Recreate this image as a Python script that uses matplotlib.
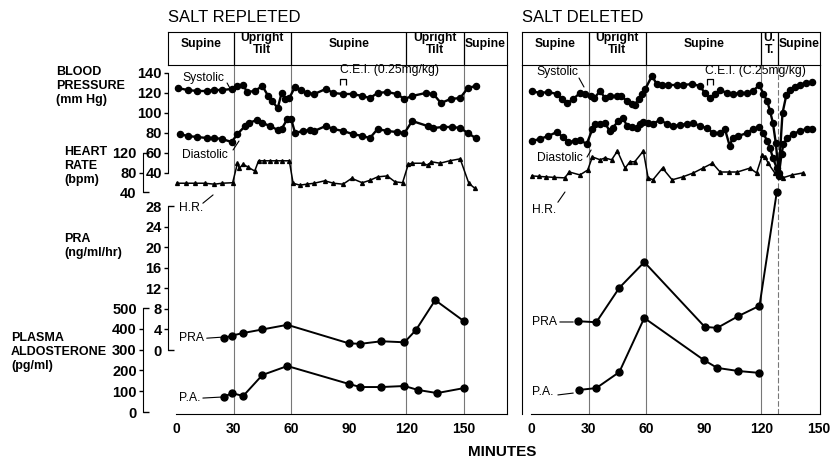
import matplotlib.pyplot as plt
from matplotlib import ticker
from matplotlib.path import Path

plt.rcParams['font.family'] = ['Liberation Sans', 'DejaVu Sans']
plt.rcParams['font.weight'] = 'bold'

# ---------------- salt repleted ----------------
rep_sys_t = [1, 6, 11, 16, 20, 24, 29, 32, 35, 37, 41, 45, 48, 50, 53, 55, 57, 59, 62, 65,
             68, 72, 78, 82, 87, 92, 97, 101, 105, 110, 115, 119, 123, 130, 134, 138, 143, 148, 152, 156]
rep_sys = [125, 123, 122, 122, 123, 123, 124, 127, 128, 121, 122, 127, 117, 112, 105, 120, 114, 115, 126, 123,
           120, 119, 124, 120, 119, 119, 117, 115, 120, 121, 119, 114, 117, 120, 119, 110, 114, 115, 125, 127]
rep_dia_t = [2, 6, 11, 16, 20, 24, 29, 32, 36, 38, 42, 45, 49, 53, 55, 58, 60, 62, 66, 70,
             72, 78, 82, 87, 92, 97, 101, 105, 110, 115, 119, 123, 131, 134, 139, 144, 148, 152, 156]
rep_dia = [79, 77, 76, 75, 75, 74, 71, 79, 87, 90, 93, 90, 87, 83, 84, 94, 94, 80, 82, 83,
           82, 87, 84, 82, 79, 77, 75, 84, 82, 81, 80, 92, 87, 85, 86, 86, 85, 80, 75]
rep_hr_t = [0.5, 5, 10, 15, 20, 24, 29.5, 32, 33, 35, 37.5, 41, 43, 46, 49, 52, 55, 59,
            61, 64.5, 68, 72, 77.5, 82, 87, 91.5, 97, 101, 105, 110, 114, 118,
            121, 123, 128.5, 131, 133, 137.5, 142.5, 148, 152.5, 155.5]
rep_hr = [58, 58, 58, 58, 56, 58, 59, 99, 89, 97, 91, 83, 104, 104, 104, 104, 104, 104,
          58, 54, 56, 58, 63, 58, 56, 68, 59, 64, 71, 73, 61, 59,
          97, 99, 99, 95, 102, 99, 104, 108, 58, 48]
rep_pra_t = [25, 29, 35, 45, 58, 90, 96, 107, 119, 125, 135, 150]
rep_pra = [2.3, 2.8, 3.3, 4.0, 4.9, 1.3, 1.2, 1.7, 1.5, 3.9, 9.7, 5.6]
rep_pa_t = [25, 29, 35, 45, 58, 90, 96, 107, 119, 126, 136, 150]
rep_pa = [72, 91, 77, 178, 221, 135, 120, 120, 125, 106, 91, 115]
rep_cei = 87

# ---------------- salt depleted ----------------
dep_sys_t = [0.5, 4.5, 9, 13.5, 16, 19, 22, 25.5, 28, 31, 33, 36, 38.5, 41, 45, 47, 50, 52.5, 54, 56,
             58, 59.5, 63, 65.5, 68, 71.5, 76, 79, 84, 88, 90.5, 93, 96, 98.5, 102, 105, 109, 112.5, 115.5, 119,
             121, 123, 124.5, 126, 127.5, 129, 131, 133, 135, 137.5, 140, 143, 146.5]
dep_sys = [122, 120, 121, 119, 114, 110, 114, 120, 119, 117, 115, 122, 115, 117, 117, 117, 112, 109, 108, 114,
           119, 124, 137, 129, 128, 128, 128, 128, 129, 127, 120, 115, 119, 123, 120, 119, 120, 120, 122, 128,
           119, 112, 102, 90, 70, 40, 100, 118, 123, 126, 128, 130, 131]
dep_dia_t = [0.5, 4.5, 9, 13.5, 16.5, 19.5, 23, 25.5, 29, 32, 33.5, 36, 38.5, 41, 42.5, 45.5, 48, 50, 52.5, 55,
             57, 58.5, 61, 63.5, 67, 71, 74, 77.5, 81, 84.5, 88, 91.5, 95, 98.5, 101, 103.5, 105, 108, 112.5, 115.5,
             119, 121, 123, 124.5, 126, 128, 129, 130.5, 131.5, 133.5, 136.5, 140, 143.5, 146.5]
dep_dia = [72, 74, 77, 81, 76, 71, 72, 73, 69, 84, 89, 89, 90, 82, 85, 92, 95, 87, 86, 85,
           89, 91, 90, 89, 93, 89, 87, 88, 89, 90, 87, 85, 80, 80, 84, 67, 75, 77, 80, 84,
           86, 80, 72, 65, 55, 45, 37, 59, 69, 75, 79, 82, 84, 84]
dep_hr_t = [0.5, 4, 8, 12, 17.5, 20, 25.5, 29.5, 32, 36, 38.5, 42, 45, 49, 51.5, 54, 58.5, 61, 63.5, 68.5,
            73.5, 79, 84.5, 89.5, 94.5, 98.5, 103, 107.5, 114, 117.5, 120.5, 122, 123.5, 127, 128.5,
            131, 136, 141.5]
dep_hr = [73, 72, 71, 70, 69, 81, 75, 85, 112, 106, 110, 106, 124, 89, 102, 102, 124, 69, 65, 89,
          65, 71, 79, 89, 99, 81, 81, 81, 89, 79, 116, 112, 99, 79, 75,
          69, 75, 79]
dep_pra_t = [24.5, 34, 46, 59, 90.5, 97, 108, 119, 128]
dep_pra = [5.6, 5.4, 12.1, 17.1, 4.5, 4.3, 6.6, 8.6, 30.7]
dep_pa_t = [25, 34, 46, 59, 90, 97, 108, 119]
dep_pa = [106, 115, 192, 452, 250, 212, 197, 188]
dep_cei = 93

rep_phases = [30, 60, 120, 150]
rep_phase_names = ['Supine', 'Upright\nTilt', 'Supine', 'Upright\nTilt', 'Supine']
dep_phases = [30, 60, 120, 128.5]
dep_phase_names = ['Supine', 'Upright\nTilt', 'Supine', 'U.\nT.', 'Supine']

W, H = 835, 459
PPM = 1.92          # pixels per minute
TOP, BOT = 65, 414  # plot area rows

# value, pixel row of that value, pixels per unit
SCALES = {'bp': (120, 93, 1.0), 'hr': (40, 192, 0.4875),
          'pra': (0, 350, 5.14), 'pa': (0, 412, 0.208)}

fig = plt.figure(figsize=(W / 100, H / 100), dpi=100)


def rect(x0, y0, x1, y1):
    return [x0 / W, 1 - y1 / H, (x1 - x0) / W, (y1 - y0) / H]


def panel(x0, x1, zero, phases, names, dashed_last=False):
    xlim = ((x0 - zero) / PPM, (x1 - zero) / PPM)
    base = fig.add_axes(rect(x0, TOP, x1, BOT), facecolor='none')
    base.set_xlim(xlim)
    base.set_yticks([])
    base.spines['top'].set_visible(False)
    base.spines['bottom'].set_bounds(0, xlim[1])
    base.set_xticks([0, 30, 60, 90, 120, 150])
    base.tick_params(axis='x', length=0, pad=6, labelsize=10)
    base.xaxis.set_minor_locator(ticker.FixedLocator([0]))
    base.tick_params(axis='x', which='minor', direction='in', length=4)
    for i, b in enumerate(phases):
        ls = (0, (5, 2)) if dashed_last and i == len(phases) - 1 else '-'
        base.axvline(b, color='#777777', lw=0.8, ls=ls, zorder=0)

    head = fig.add_axes(rect(x0, 32, x1, TOP))
    head.set_xlim(xlim)
    head.set_ylim(0, 1)
    head.set_xticks([])
    head.set_yticks([])
    for b in phases:
        head.axvline(b, color='k', lw=0.9)
    edges = [xlim[0]] + phases + [xlim[1]]
    for a, b, name in zip(edges[:-1], edges[1:], names):
        head.text((a + b) / 2, 0.63, name, ha='center', va='center',
                  fontsize=8.7, linespacing=0.95)

    axes = {'base': base}
    for key, (v0, p0, s) in SCALES.items():
        a = fig.add_axes(rect(x0, TOP, x1, BOT), facecolor='none')
        a.set_xlim(xlim)
        a.set_ylim(v0 - (BOT - p0) / s, v0 + (p0 - TOP) / s)
        a.set_xticks([])
        a.set_yticks([])
        for sp in a.spines.values():
            sp.set_visible(False)
        axes[key] = a
    return axes


def y_scale(a, bounds, major, minor=(), offset=0):
    sp = a.spines['left']
    sp.set_visible(True)
    sp.set_bounds(*bounds)
    if offset:
        sp.set_position(('outward', offset))
    a.set_yticks(major)
    a.set_yticks(list(minor), minor=True)
    a.yaxis.set_minor_formatter(ticker.FormatStrFormatter('%d'))
    a.tick_params(axis='y', which='major', direction='out', length=3, width=1,
                  pad=1.5, labelsize=10.5)
    a.tick_params(axis='y', which='minor', direction='in', length=4, width=1,
                  pad=4.5, labelsize=10.5)


def draw(p, st, sv, dt, dv, ht, hv, rt, rv, at, av, cei):
    p['bp'].plot(st, sv, 'o-', color='k', lw=1.7, ms=4.4)
    p['bp'].plot(dt, dv, 'o-', color='k', lw=1.7, ms=4.4)
    p['hr'].plot(ht, hv, '^-', color='k', lw=1.1, ms=2.8)
    p['pra'].plot(rt, rv, 'o-', color='k', lw=1.4, ms=5)
    p['pa'].plot(at, av, 'o-', color='k', lw=1.4, ms=5)
    bracket = Path([(-1, -1), (-1, 1), (1, 1), (1, -1)],
                   [Path.MOVETO, Path.LINETO, Path.LINETO, Path.LINETO])
    p['bp'].plot([cei], [131], marker=bracket, ms=5, mfc='none', mec='k', mew=0.9)


def note(a, text, at, start, end, size=8.7):
    a.text(at[0], at[1], text, ha='center', va='center', fontsize=size, fontweight='normal')
    a.annotate('', xy=end, xytext=start,
               arrowprops=dict(arrowstyle='-', lw=0.8, color='k', shrinkA=0, shrinkB=0))


# left panel: salt repleted
L = panel(168, 507, 176, rep_phases, rep_phase_names)
L['base'].spines['left'].set_visible(False)
y_scale(L['bp'], (40, 140), range(40, 141, 20))
y_scale(L['hr'], (40, 120), [80], [40, 120], offset=18)
y_scale(L['pra'], (0, 28), range(4, 25, 4), [0, 28])
y_scale(L['pa'], (0, 500), range(100, 401, 100), [0, 500], offset=18)
draw(L, rep_sys_t, rep_sys, rep_dia_t, rep_dia, rep_hr_t, rep_hr,
     rep_pra_t, rep_pra, rep_pa_t, rep_pa, rep_cei)

note(L['bp'], 'Systolic', (14, 135), (26.6, 130), (29.2, 121))
note(L['bp'], 'Diastolic', (15, 58), (29.7, 63), (32.8, 72))
note(L['hr'], 'H.R.', (8, 7), (14, 17), (19.3, 34))
note(L['pra'], 'PRA', (8, 2.3), (16, 2.3), (24, 2.5))
note(L['pa'], 'P.A.', (7, 67), (14, 67), (24, 72))
L['bp'].text(85.4, 143, 'C.E.I. (0.25mg/kg)', fontsize=8.7, fontweight='normal', va='center')

# right panel: salt depleted
R = panel(522, 820, 531, dep_phases, dep_phase_names, dashed_last=True)
draw(R, dep_sys_t, dep_sys, dep_dia_t, dep_dia, dep_hr_t, dep_hr,
     dep_pra_t, dep_pra, dep_pa_t, dep_pa, dep_cei)

note(R['bp'], 'Systolic', (13.5, 141), (25, 135), (27.6, 126))
note(R['bp'], 'Diastolic', (15, 55), (29.2, 56), (31.3, 63))
note(R['hr'], 'H.R.', (7, 3), (14, 19), (17.7, 40))
note(R['pra'], 'PRA', (7, 5.45), (15, 5.45), (22, 5.45))
note(R['pa'], 'P.A.', (6.3, 96), (14, 82), (22, 91))
R['bp'].text(90.6, 142, 'C.E.I. (C.25mg/kg)', fontsize=8.7, fontweight='normal', va='center')

# titles and side labels
fig.text(168 / W, 1 - 18 / H, 'SALT REPLETED', fontsize=12, fontweight='normal', va='center')
fig.text(522 / W, 1 - 18 / H, 'SALT DELETED', fontsize=12, fontweight='normal', va='center')
fig.text(502 / W, 1 - 452 / H, 'MINUTES', fontsize=11, ha='center', va='center')
fig.text(56 / W, 1 - 66 / H, 'BLOOD\nPRESSURE\n(mm Hg)', fontsize=9, va='top', linespacing=1.25)
fig.text(64 / W, 1 - 146 / H, 'HEART\nRATE\n(bpm)', fontsize=9, va='top', linespacing=1.25)
fig.text(64 / W, 1 - 233 / H, 'PRA\n(ng/ml/hr)', fontsize=9, va='top', linespacing=1.25)
fig.text(11 / W, 1 - 332 / H, 'PLASMA\nALDOSTERONE\n(pg/ml)', fontsize=9, va='top', linespacing=1.25)

fig.savefig('out.png', dpi=100)
